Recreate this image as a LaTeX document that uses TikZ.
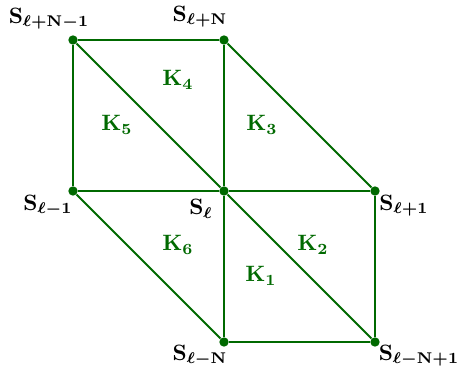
\documentclass[tikz,border=0pt]{standalone}
\usepackage{amsmath,bm}
\definecolor{dg}{RGB}{0,105,0}
\begin{document}
\begin{tikzpicture}[x=0.45pt,y=-0.45pt,
  edge/.style={dg,line width=0.95pt},
  pt/.style={circle,fill=dg,inner sep=0pt,minimum size=4.2pt},
  slab/.style={inner sep=0pt,anchor=center,font=\boldmath},
  klab/.style={inner sep=0pt,anchor=center,text=dg,font=\boldmath}]
\useasboundingbox (0,0) rectangle (458,374);
\node[pt] (a) at (73,40) {};
\node[pt] (b) at (224,40) {};
\node[pt] (c) at (73,191) {};
\node[pt] (o) at (224,191) {};
\node[pt] (d) at (375,191) {};
\node[pt] (e) at (224,342) {};
\node[pt] (f) at (375,342) {};
\draw[edge] (a) -- (b);
\draw[edge] (a) -- (c);
\draw[edge] (a) -- (o);
\draw[edge] (o) -- (f);
\draw[edge] (b) -- (o);
\draw[edge] (o) -- (e);
\draw[edge] (b) -- (d);
\draw[edge] (c) -- (o);
\draw[edge] (o) -- (d);
\draw[edge] (d) -- (f);
\draw[edge] (c) -- (e);
\draw[edge] (e) -- (f);
\node[slab] (la) at (49,19) {$\mathbf{S}_{\ell+\mathbf{N}-\mathbf{1}}$};
\node[slab] (lb) at (200,17) {$\mathbf{S}_{\ell+\mathbf{N}}$};
\node[slab] (lc) at (48,206) {$\mathbf{S}_{\ell-\mathbf{1}}$};
\node[slab] (lo) at (201,209) {$\mathbf{S}_{\ell}$};
\node[slab] (ld) at (404,206) {$\mathbf{S}_{\ell+\mathbf{1}}$};
\node[slab] (le) at (200,356) {$\mathbf{S}_{\ell-\mathbf{N}}$};
\node[slab] (lf) at (419,356) {$\mathbf{S}_{\ell-\mathbf{N}+\mathbf{1}}$};
\node[klab] (k4) at (178,80) {$\mathbf{K}_{\mathbf{4}}$};
\node[klab] (k5) at (117,125) {$\mathbf{K}_{\mathbf{5}}$};
\node[klab] (k3) at (262,125) {$\mathbf{K}_{\mathbf{3}}$};
\node[klab] (k6) at (178,245) {$\mathbf{K}_{\mathbf{6}}$};
\node[klab] (k2) at (313,245) {$\mathbf{K}_{\mathbf{2}}$};
\node[klab] (k1) at (261,276) {$\mathbf{K}_{\mathbf{1}}$};
\end{tikzpicture}
\end{document}
